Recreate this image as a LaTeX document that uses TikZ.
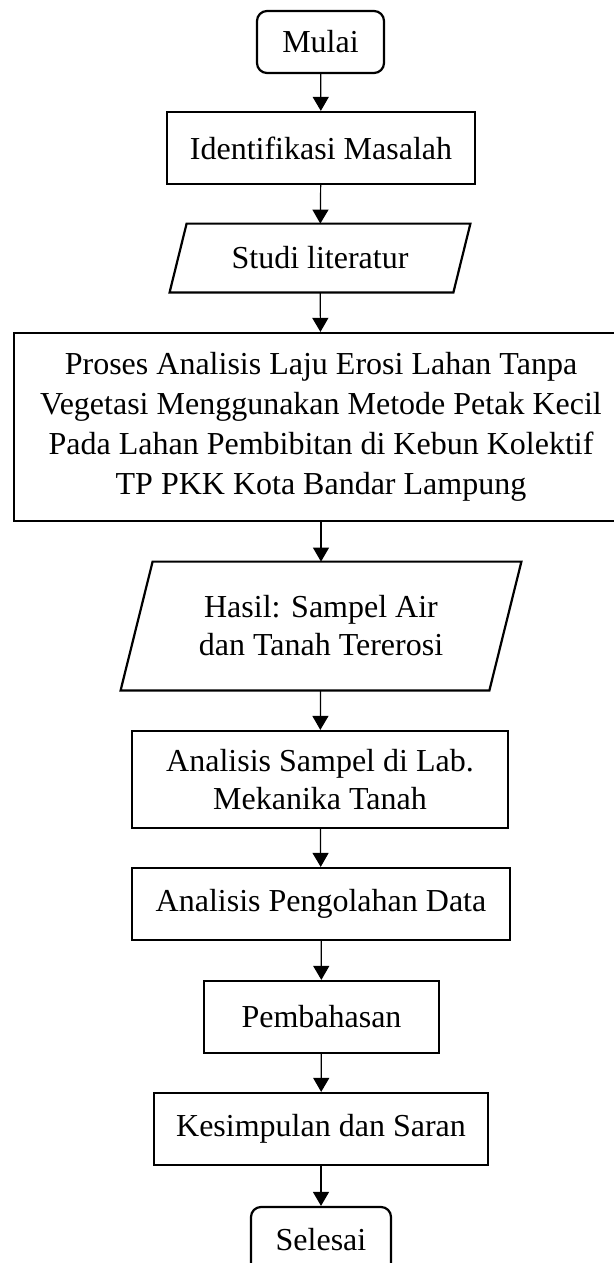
\documentclass[tikz,border=0pt]{standalone}
\usepackage{fontspec}
\setmainfont{Liberation Serif}
\usetikzlibrary{arrows.meta}

% slanted outline round a named node: #1 node, #2 half the slant
\newcommand\ioframe[2]{%
  \draw[line width=1.1pt] ([xshift=#2]#1.north west) -- ([xshift=#2]#1.north east)
    -- ([xshift=-#2]#1.south east) -- ([xshift=-#2]#1.south west) -- cycle;}

\begin{document}
\begin{tikzpicture}[x=0.5pt,y=-0.5pt,font=\fontsize{16}{20}\selectfont,
  term/.style={draw,rounded corners=5pt,line width=1.1pt,inner sep=0pt},
  proc/.style={draw,line width=1.1pt,inner sep=0pt,align=center},
  io/.style={inner sep=0pt,align=center},
  flow/.style={-{Triangle[width=8pt,length=7pt]},line width=0.6pt}]
\clip (0,0) rectangle (614,1263);
% start and first steps
\node[term,minimum width=63.5pt,minimum height=31pt] (mulai) at (320.5,42) {Mulai};
\node[proc,minimum width=154pt,minimum height=36pt] (identifikasi) at (321,148) {Identifikasi Masalah};
\node[io,minimum width=141.5pt,minimum height=34pt] (studi) at (320,258) {Studi literatur};
\ioframe{studi}{4.25pt}
% main process (box runs past the right edge)
\node[proc,minimum width=307pt,minimum height=94pt] (proses) at (321,427)
  {Proses Analisis Laju Erosi Lahan Tanpa\\Vegetasi Menggunakan Metode Petak Kecil\\Pada Lahan Pembibitan di Kebun Kolektif\\TP PKK Kota Bandar Lampung};
\node[io,minimum width=184pt,minimum height=64pt,font=\fontsize{16}{19}\selectfont] (hasil) at (321,626)
  {Hasil: Sampel Air\\dan Tanah Tererosi};
\ioframe{hasil}{8pt}
% analysis and closing
\node[proc,minimum width=188pt,minimum height=48.5pt,font=\fontsize{16}{19}\selectfont] (lab) at (320,779.5)
  {Analisis Sampel di Lab.\\Mekanika Tanah};
\node[proc,minimum width=189pt,minimum height=36pt] (olah) at (321,904) {Analisis Pengolahan Data};
\node[proc,minimum width=117.5pt,minimum height=36pt] (bahas) at (321.5,1017) {Pembahasan};
\node[proc,minimum width=167pt,minimum height=36pt] (simpul) at (321,1129) {Kesimpulan dan Saran};
\node[term,minimum width=70pt,minimum height=33pt] (selesai) at (321,1240) {Selesai};
% arrows
\draw[flow] (mulai) -- (identifikasi);
\draw[flow] (identifikasi) -- (studi);
\draw[flow] (studi) -- (proses);
\draw[flow] (proses) -- (hasil);
\draw[flow] (hasil) -- (lab);
\draw[flow] (lab) -- (olah);
\draw[flow] (olah) -- (bahas);
\draw[flow] (bahas) -- (simpul);
\draw[flow] (simpul) -- (selesai);
\end{tikzpicture}
\end{document}
